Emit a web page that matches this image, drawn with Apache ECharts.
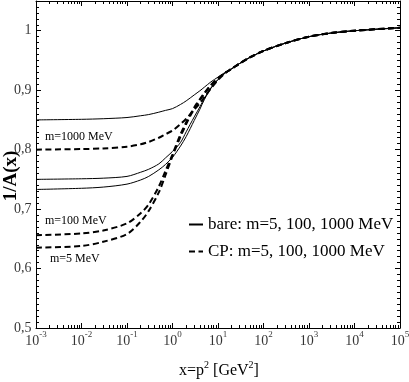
<!DOCTYPE html>
<html><head><meta charset="utf-8">
<script src="https://cdn.jsdelivr.net/npm/echarts@6/dist/echarts.min.js"></script>
<style>html,body{margin:0;padding:0;background:#fff}#c{width:409px;height:382px}</style>
</head><body><div id="c"></div>
<script>
// x = p^2 [GeV^2]
const xValues = [1e-3, 1e-2, 0.03, 0.1, 0.2, 0.3, 0.5, 0.7, 1, 1.5, 2, 3, 4, 5, 7, 10, 15, 20, 30, 50, 100, 300, 1000, 3000, 1e4, 1e5];
// bare propagator, 1/A(x)
const bare5    = [0.733,0.735,0.737,0.742,0.749,0.755,0.766,0.775,0.787,0.806,0.822,0.849,0.868,0.884,0.903,0.918,0.930,0.936,0.945,0.955,0.966,0.979,0.990,0.996,1.000,1.005];
const bare100  = [0.750,0.751,0.752,0.755,0.762,0.767,0.776,0.786,0.797,0.812,0.830,0.855,0.872,0.886,0.904,0.918,0.930,0.936,0.945,0.955,0.966,0.979,0.990,0.996,1.000,1.005];
const bare1000 = [0.850,0.851,0.852,0.854,0.857,0.859,0.863,0.866,0.869,0.876,0.882,0.892,0.899,0.905,0.914,0.922,0.931,0.936,0.945,0.955,0.966,0.979,0.990,0.996,1.000,1.005];
// CP vertex
const cp5      = [0.635,0.638,0.645,0.658,0.679,0.697,0.728,0.757,0.789,0.822,0.843,0.869,0.883,0.894,0.908,0.920,0.930,0.936,0.945,0.955,0.966,0.979,0.990,0.996,1.000,1.005];
const cp100    = [0.656,0.659,0.664,0.676,0.693,0.708,0.738,0.764,0.792,0.826,0.846,0.871,0.885,0.895,0.909,0.920,0.930,0.936,0.945,0.955,0.966,0.979,0.990,0.996,1.000,1.005];
const cp1000   = [0.800,0.801,0.802,0.805,0.809,0.813,0.820,0.826,0.832,0.843,0.852,0.867,0.878,0.888,0.903,0.917,0.930,0.936,0.945,0.955,0.966,0.979,0.990,0.996,1.000,1.005];

const xMajorTicks = [1e-3, 1e-2, 1e-1, 1, 1e1, 1e2, 1e3, 1e4, 1e5];
const yMajorTicks = [0.5, 0.6, 0.7, 0.8, 0.9, 1.0];
const bareName = 'bare: m=5, 100, 1000 MeV';
const cpName = 'CP: m=5, 100, 1000 MeV';

const xMinorTicks = [];
for (let d = -3; d < 5; d++) for (let m = 2; m <= 9; m++) xMinorTicks.push(+(m * Math.pow(10, d)).toPrecision(6));
const yMinorTicks = [];
for (let i = 51; i <= 104; i++) if (i % 10 !== 0) yMinorTicks.push(i / 100);

const SERIF = '"Liberation Serif", "DejaVu Serif", serif';
const X_MIN = 1e-3, X_MAX = 1e5, Y_MIN = 0.5, Y_MAX = 1.05;
const pair = ys => xValues.map((x, i) => [x, ys[i]]);

function xA(pos, ticks, len, main) {
  return {
    type: 'log', logBase: 10, min: X_MIN, max: X_MAX, position: pos,
    axisLine: { show: main, lineStyle: { color: '#000', width: 1 } },
    axisTick: { show: true, inside: true, length: len, customValues: ticks, lineStyle: { color: '#000', width: 1 } },
    axisLabel: { show: false },
    splitLine: { show: false }
  };
}
function yA(pos, ticks, len, main) {
  return {
    type: 'value', min: Y_MIN, max: Y_MAX, interval: 0.1, position: pos,
    axisLine: { show: main, lineStyle: { color: '#000', width: 1 } },
    axisTick: { show: true, inside: true, length: len, customValues: ticks, lineStyle: { color: '#000', width: 1 } },
    axisLabel: { show: false },
    splitLine: { show: false }
  };
}

const chart = echarts.init(document.getElementById('c'));
const bareStyle = { color: '#000', width: 1, type: 'solid' };
const cpStyle = { color: '#000', width: 2, type: [6, 3.5] };
function line(name, ys, style) {
  return { type: 'line', name, data: pair(ys), xAxisIndex: 0, yAxisIndex: 0, smooth: 0.3,
    symbol: 'none', showSymbol: false, lineStyle: style, itemStyle: { color: '#000' } };
}
// tick labels drawn as labels of transparent marks placed by the axes' own scales
const xTickLabels = {
  type: 'scatter', xAxisIndex: 0, yAxisIndex: 0, clip: false, silent: true,
  symbol: 'circle', symbolSize: 1, itemStyle: { color: 'rgba(0,0,0,0)' }, emphasis: { disabled: true },
  data: xMajorTicks.map(x => [x, Y_MIN]),
  label: {
    show: true, position: 'bottom', distance: 2, color: '#000',
    formatter: p => '{b|10}{s|' + Math.round(Math.log10(p.value[0])) + '}',
    rich: {
      b: { fontFamily: SERIF, fontSize: 14, color: '#000', lineHeight: 22 },
      s: { fontFamily: SERIF, fontSize: 9, color: '#000', lineHeight: 9, verticalAlign: 'top' }
    }
  },
  labelLayout: { hideOverlap: false }
};
const yTickLabels = {
  type: 'scatter', xAxisIndex: 0, yAxisIndex: 0, clip: false, silent: true,
  symbol: 'circle', symbolSize: 1, itemStyle: { color: 'rgba(0,0,0,0)' }, emphasis: { disabled: true },
  data: yMajorTicks.map(y => [X_MIN, y]),
  label: {
    show: true, position: 'left', distance: 4,
    fontFamily: SERIF, fontSize: 14, color: '#000',
    formatter: p => (Math.abs(p.value[1] - 1) < 1e-9 ? '1' : p.value[1].toFixed(1).replace('.', ','))
  },
  labelLayout: { hideOverlap: false }
};
chart.setOption({
  animation: false,
  grid: { left: 36, right: 9, top: 1, bottom: 54 },
  xAxis: [
    xA('bottom', xMajorTicks, 5, true),
    xA('bottom', xMinorTicks, 3, false),
    xA('top', xMajorTicks, 5, true),
    xA('top', xMinorTicks, 3, false)
  ],
  yAxis: [
    yA('left', yMajorTicks, 5, true),
    yA('left', yMinorTicks, 3, false),
    yA('right', yMajorTicks, 5, true),
    yA('right', yMinorTicks, 3, false)
  ],
  legend: {
    orient: 'vertical', left: 183, top: 211, itemGap: 10, itemWidth: 14, itemHeight: 10,
    data: [bareName, cpName], selectedMode: false,
    itemStyle: { opacity: 0 },
    textStyle: { fontFamily: SERIF, fontSize: 17, color: '#000' }
  },
  series: [
    line(bareName, bare5, bareStyle),
    line(bareName, bare100, bareStyle),
    line(bareName, bare1000, bareStyle),
    line(cpName, cp5, cpStyle),
    line(cpName, cp100, cpStyle),
    line(cpName, cp1000, cpStyle),
    xTickLabels,
    yTickLabels
  ],
  graphic: [
    { type: 'text', left: 45, top: 131, style: { text: 'm=1000 MeV', font: '12px ' + SERIF, fill: '#000' } },
    { type: 'text', left: 45, top: 215, style: { text: 'm=100 MeV', font: '12px ' + SERIF, fill: '#000' } },
    { type: 'text', left: 50, top: 253, style: { text: 'm=5 MeV', font: '12px ' + SERIF, fill: '#000' } },
    { type: 'text', x: 11, y: 176, rotation: Math.PI / 2,
      style: { text: '1/A(x)', font: 'bold 19px ' + SERIF, fill: '#000', textAlign: 'center', textVerticalAlign: 'middle' } },
    { type: 'text', x: 219, y: 371,
      style: {
        text: '{t|x=p}{s|2}{t| [GeV}{s|2}{t|]}', align: 'center', verticalAlign: 'middle',
        rich: {
          t: { fontFamily: SERIF, fontSize: 16, fill: '#000', lineHeight: 22 },
          s: { fontFamily: SERIF, fontSize: 10, fill: '#000', lineHeight: 10, verticalAlign: 'top' }
        }
      } }
  ]
});
</script></body></html>
